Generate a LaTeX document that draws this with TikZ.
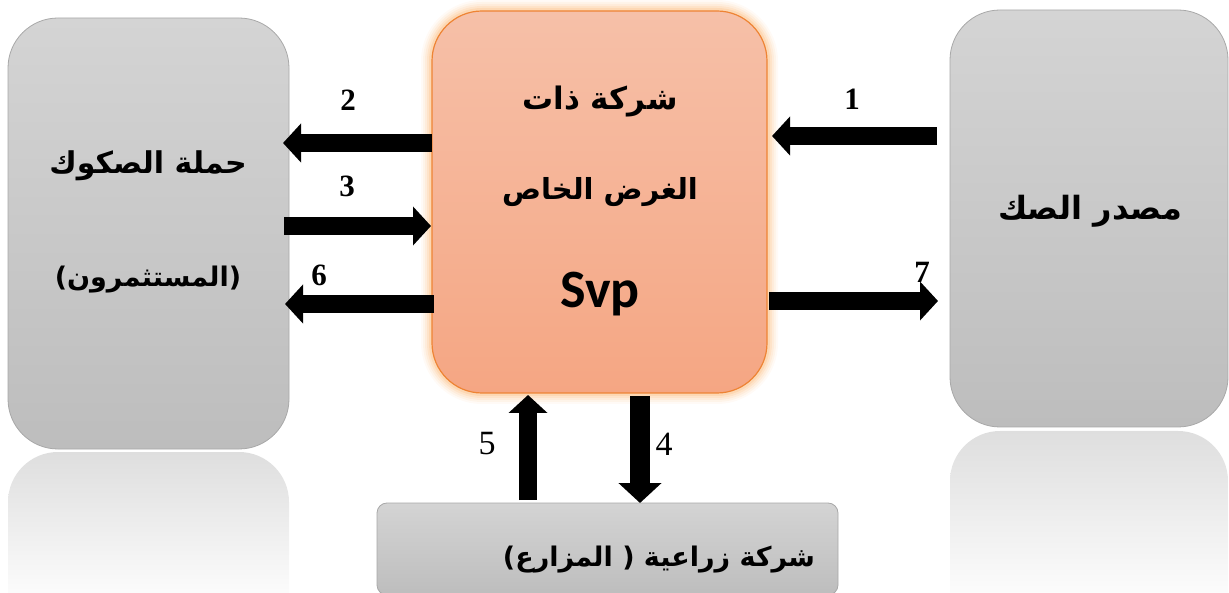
\documentclass[tikz,border=0pt]{standalone}
\usepackage{fontspec}
\setmainfont{Liberation Serif}
\newfontfamily\svpfont{Carlito}
\newfontfamily\arabicfont[Script=Arabic]{DejaVu Sans}
\newfontfamily\parenfont{DejaVu Sans}
\TeXXeTstate=1
\usetikzlibrary{arrows.meta}

\definecolor{boxtop}{RGB}{212,212,212}
\definecolor{boxbot}{RGB}{189,189,189}
\definecolor{boxline}{RGB}{168,168,168}
\definecolor{refltop}{RGB}{222,222,222}
\definecolor{svptop}{RGB}{246,192,168}
\definecolor{svpbot}{RGB}{245,166,131}
\definecolor{svpline}{RGB}{238,132,52}
\definecolor{glowcol}{RGB}{250,160,70}

% parentheses set left to right, outside the Arabic shaping
\newcommand{\lpar}{{\parenfont\bfseries(}}
\newcommand{\rpar}{{\parenfont\bfseries)}}

\tikzset{
  graybox/.style={draw=boxline, line width=0.8pt, top color=boxtop,
    bottom color=boxbot, rounded corners=50pt, inner sep=0pt},
  svpbox/.style={draw=svpline, line width=1.2pt, top color=svptop,
    bottom color=svpbot, rounded corners=50pt, inner sep=0pt},
  farmbox/.style={draw=boxline, line width=0.8pt, top color=boxtop,
    bottom color=boxbot, rounded corners=10pt, inner sep=0pt},
  mirror/.style={top color=refltop, bottom color=white, draw=none},
  flow/.style={line width=18pt, -{Triangle[width=38pt,length=18pt]}},
  flowwide/.style={line width=20pt, -{Triangle[width=42pt,length=20pt]}},
  numbold/.style={font=\bfseries\fontsize{31}{31}\selectfont, inner sep=0pt},
  numplain/.style={font=\fontsize{34}{34}\selectfont, inner sep=0pt},
  artext/.style={font=\arabicfont\bfseries\fontsize{#1}{#1}\selectfont, inner sep=0pt},
  artext/.default=29,
}

\begin{document}
\begin{tikzpicture}[x=1pt, y=-1pt]
\useasboundingbox (0,0) rectangle (1229,593);
\clip (0,0) rectangle (1229,593);

% soft reflections under the two side boxes
\path[mirror, rounded corners=50pt] (8,610) -- (8,452) -- (289,452) -- (289,610);
\path[mirror, rounded corners=50pt] (950,610) -- (950,431) -- (1228,431) -- (1228,610);

% side boxes
\node[graybox, minimum width=281pt, minimum height=431pt] (hold) at (148.5,233.5) {};
\node[graybox, minimum width=278pt, minimum height=417pt] (src) at (1089,218.5) {};

% orange glow around the special purpose company
\foreach \w/\o in {22/0.05, 18/0.07, 14/0.09, 10/0.12, 6/0.16} {
  \draw[glowcol, opacity=\o, line width=\w pt, rounded corners=50pt]
    (432,11) rectangle (767,393);
}
\node[svpbox, minimum width=335pt, minimum height=382pt] (svp) at (599.5,202) {};

% farming company box
\node[farmbox, minimum width=461pt, minimum height=92pt] (farm) at (607.5,549) {};

% box texts
\node[artext=30] (holdA) at (148,166) {\beginR حملة الصكوك\endR};
\node[artext=27] (holdB) at (148,280) {\lpar\beginR المستثمرون\endR\rpar};
\node[artext=32] (srcA) at (1090,211) {\beginR مصدر الصك\endR};
\node[artext=31] (svpA) at (600,102) {\beginR شركة ذات\endR};
\node[artext=29] (svpB) at (600,192) {\beginR الغرض الخاص\endR};
\node[font=\svpfont\bfseries\fontsize{54}{54}\selectfont, inner sep=0pt] (svpC) at (600,294) {Svp};
\node[artext=27] (farmA) at (659,560) {\lpar\beginR المزارع\endR\ \rpar\ \beginR شركة زراعية\endR};

% flow end points
\coordinate (e1s) at (937,136);  \coordinate (e1t) at (772,136);
\coordinate (e2s) at (432,143);  \coordinate (e2t) at (283,143);
\coordinate (e3s) at (284,226);  \coordinate (e3t) at (431,226);
\coordinate (e6s) at (434,304);  \coordinate (e6t) at (285,304);
\coordinate (e7s) at (769,301);  \coordinate (e7t) at (938,301);
\coordinate (e5s) at (528,500);  \coordinate (e5t) at (528,395);
\coordinate (e4s) at (640,396);  \coordinate (e4t) at (640,503);

\draw[flow] (e1s) -- (e1t);
\draw[flow] (e2s) -- (e2t);
\draw[flow] (e3s) -- (e3t);
\draw[flow] (e6s) -- (e6t);
\draw[flow] (e7s) -- (e7t);
\draw[flow] (e5s) -- (e5t);
\draw[flowwide] (e4s) -- (e4t);

% step numbers
\node[numbold] (n1) at (852,99) {1};
\node[numbold] (n2) at (348,100) {2};
\node[numbold] (n3) at (347,186) {3};
\node[numbold] (n6) at (319,275) {6};
\node[numbold] (n7) at (922,272) {7};
\node[numplain] (n5) at (487,444) {5};
\node[numplain] (n4) at (664,444) {4};
\end{tikzpicture}
\end{document}
